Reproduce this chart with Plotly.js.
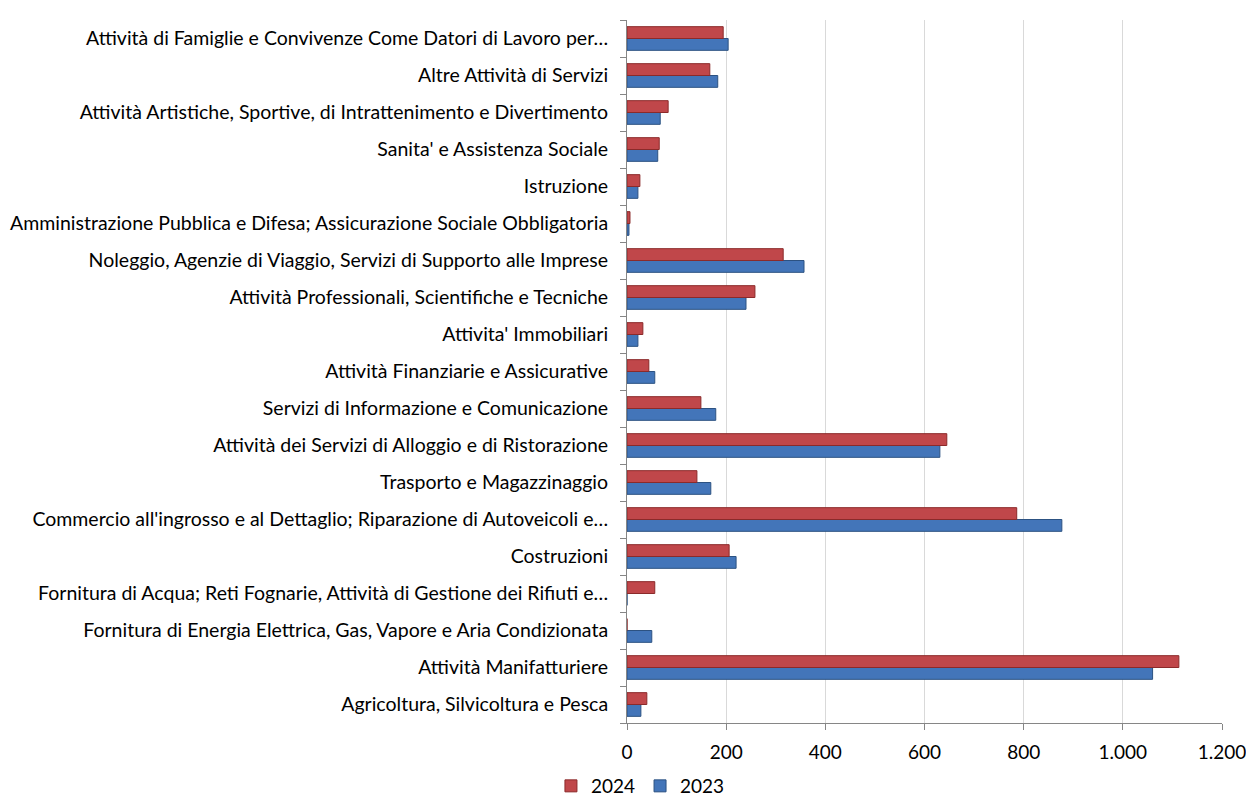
<!DOCTYPE html>
<html>
<head>
<meta charset="utf-8">
<script src="https://cdn.plot.ly/plotly-3.0.1.min.js"></script>
<style>html,body{margin:0;padding:0;background:#fff;}#chart{width:1246px;height:805px;}</style>
</head>
<body>
<div id="chart"></div>
<script>
const categories = [
  "Agricoltura, Silvicoltura e Pesca",
  "Attività Manifatturiere",
  "Fornitura di Energia Elettrica, Gas, Vapore e Aria Condizionata",
  "Fornitura di Acqua; Reti Fognarie, Attività di Gestione dei Rifiuti e…",
  "Costruzioni",
  "Commercio all'ingrosso e al Dettaglio; Riparazione di Autoveicoli e…",
  "Trasporto e Magazzinaggio",
  "Attività dei Servizi di Alloggio e di Ristorazione",
  "Servizi di Informazione e Comunicazione",
  "Attività Finanziarie e Assicurative",
  "Attivita' Immobiliari",
  "Attività Professionali, Scientifiche e Tecniche",
  "Noleggio, Agenzie di Viaggio, Servizi di Supporto alle Imprese",
  "Amministrazione Pubblica e Difesa; Assicurazione Sociale Obbligatoria",
  "Istruzione",
  "Sanita' e Assistenza Sociale",
  "Attività Artistiche, Sportive, di Intrattenimento e Divertimento",
  "Altre Attività di Servizi",
  "Attività di Famiglie e Convivenze Come Datori di Lavoro per…"
];
const values2024 = [40, 1113, 0, 56, 206, 786, 141, 645, 149, 44, 32, 258, 315, 6, 26, 65, 83, 167, 194];
const values2023 = [28, 1060, 50, 0, 220, 877, 169, 631, 179, 56, 22, 240, 357, 4, 22, 62, 67, 183, 204];
const seriesNames = ["2023", "2024"];
const xTicks = [0, 200, 400, 600, 800, 1000, 1200];

const traces = [
  {type:'bar', orientation:'h', name:seriesNames[0], y:categories, x:values2023,
   marker:{color:'#4375B9', line:{color:'#2C5282', width:1}}},
  {type:'bar', orientation:'h', name:seriesNames[1], y:categories, x:values2024,
   marker:{color:'#C0474A', line:{color:'#8B2A2A', width:1}}}
];
const layout = {
  width:1246, height:805,
  margin:{l:627, r:24, t:20, b:82},
  paper_bgcolor:'#fff', plot_bgcolor:'#fff',
  font:{family:'Lato, "Liberation Sans", sans-serif', size:19.5, color:'#000'},
  separators:',.',
  barmode:'group', bargap:0.36, bargroupgap:0,
  showlegend:true,
  legend:{orientation:'h', xref:'container', yref:'container', x:0.514, xanchor:'center', y:0, yanchor:'bottom',
          traceorder:'reversed', font:{size:19}, itemwidth:30, tracegroupgap:0},
  xaxis:{range:[0,1200], tickvals:xTicks, tickformat:',d', showgrid:true, gridcolor:'#D9D9D9', gridwidth:1,
         showline:true, linecolor:'#868686', ticks:'outside', ticklen:6, tickcolor:'#868686', zeroline:false,
         ticklabeloverflow:'allow', ticklabelstandoff:6, fixedrange:true, tickfont:{size:19}},
  yaxis:{type:'category', showline:true, linecolor:'#868686', ticks:'outside', tickson:'boundaries', ticklen:6,
         tickcolor:'#868686', showgrid:false, automargin:false, ticklabelstandoff:14, fixedrange:true}
};
Plotly.newPlot('chart', traces, layout, {displayModeBar:false, staticPlot:true});
</script>
</body>
</html>
